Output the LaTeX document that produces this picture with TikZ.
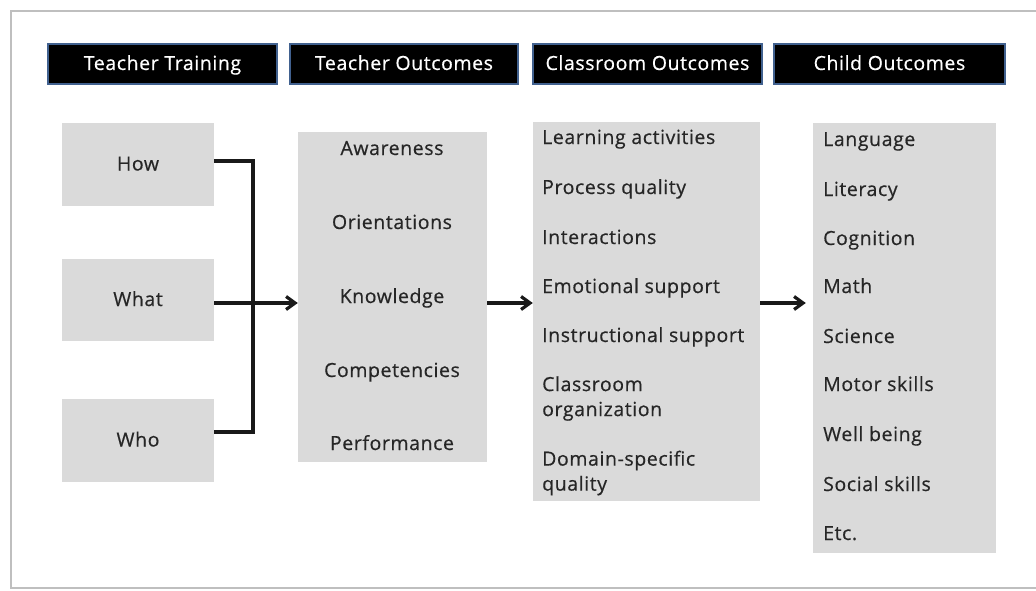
\documentclass[tikz,border=0pt]{standalone}
\usepackage{fontspec}
\setmainfont{Open Sans}[LetterSpace=3, FakeBold=0.5]
\usetikzlibrary{arrows.meta}
\definecolor{headblue}{HTML}{41618F}
\definecolor{boxgray}{HTML}{DADADA}
\definecolor{txtgray}{HTML}{262626}
\definecolor{framegray}{HTML}{BFBFBF}
\tikzset{
  head/.style={draw=headblue, line width=1.2pt, fill=black, text=white, inner sep=0pt,
    text height=14pt, text depth=2pt, font=\fontsize{19.5}{22}\selectfont},
  graybox/.style={fill=boxgray, inner sep=0pt},
  item/.style={text=txtgray, inner sep=0pt, text height=14pt, text depth=2pt,
    font=\fontsize{19.5}{25}\selectfont},
  twoline/.style={text=txtgray, inner sep=0pt, align=left,
    font=\fontsize{19.5}{25}\selectfont},
  conn/.style={line width=3.2pt, draw=black!90},
  tip/.style={-{Straight Barb[length=9pt,width=13pt]}}
}
\begin{document}
\begin{tikzpicture}[x=1pt,y=-1pt]
      \useasboundingbox (0,0) rectangle (1036,590);
      \draw[framegray, line width=1.8pt] (1036,11) -- (11,11) -- (11,588) -- (1036,588);

      % headers
      \node[head, minimum width=229, minimum height=40] (htrain) at (162.5,64) {Teacher Training};
      \node[head, minimum width=228, minimum height=40] (htout) at (404,64) {Teacher Outcomes};
      \node[head, minimum width=229, minimum height=40] (hclass) at (647.5,64) {Classroom Outcomes};
      \node[head, minimum width=231, minimum height=40] (hchild) at (889.5,64) {Child Outcomes};

      % teacher training
      \node[graybox, minimum width=152, minimum height=83, item] (how) at (138,164.5) {How};
      \node[graybox, minimum width=152, minimum height=82, item] (what) at (138,300) {What};
      \node[graybox, minimum width=152, minimum height=83, item] (who) at (138,440.5) {Who};

      % teacher outcomes
      \node[graybox, minimum width=189, minimum height=330] (tout) at (392.5,297) {};
      \node[item] (aware) at (392,149) {Awareness};
      \node[item] (orient) at (392,223) {Orientations};
      \node[item] (know) at (392,297) {Knowledge};
      \node[item] (compet) at (392,371) {Competencies};
      \node[item] (perf) at (392,444) {Performance};

      % classroom outcomes
      \node[graybox, minimum width=227, minimum height=379] (class) at (646.5,311.5) {};
      \node[item, anchor=west] (learn) at (542,138) {Learning activities};
      \node[item, anchor=west] (proc) at (542,188) {Process quality};
      \node[item, anchor=west] (inter) at (542,238) {Interactions};
      \node[item, anchor=west] (emot) at (542,287) {Emotional support};
      \node[item, anchor=west] (instr) at (542,336) {Instructional support};
      \node[twoline, anchor=west] (organ) at (542,398.5) {Classroom\\organization};
      \node[twoline, anchor=west] (domain) at (542,473) {Domain-specific\\quality};

      % child outcomes
      \node[graybox, minimum width=183, minimum height=430] (child) at (904.5,338) {};
      \node[item, anchor=west] (lang) at (823,140) {Language};
      \node[item, anchor=west] (liter) at (823,190) {Literacy};
      \node[item, anchor=west] (cogn) at (823,239) {Cognition};
      \node[item, anchor=west] (math) at (823,287) {Math};
      \node[item, anchor=west] (sci) at (823,337) {Science};
      \node[item, anchor=west] (motor) at (823,385) {Motor skills};
      \node[item, anchor=west] (well) at (823,435) {Well being};
      \node[item, anchor=west] (social) at (823,485) {Social skills};
      \node[item, anchor=west] (etc) at (823,534) {Etc.};

      % connectors
      \coordinate (join) at (253,303);
      \draw[conn] ([yshift=3.5]how.east) -| (join) |- ([yshift=8.5]who.east);
      \draw[conn,tip] ([yshift=-3]what.east) -- ([yshift=-3]what.east -| tout.west);
      \draw[conn,tip] (tout.east |- join) -- (class.west |- join);
      \draw[conn,tip] (class.east |- join) -- ([xshift=-7]child.west |- join);
    \end{tikzpicture}
\end{document}
